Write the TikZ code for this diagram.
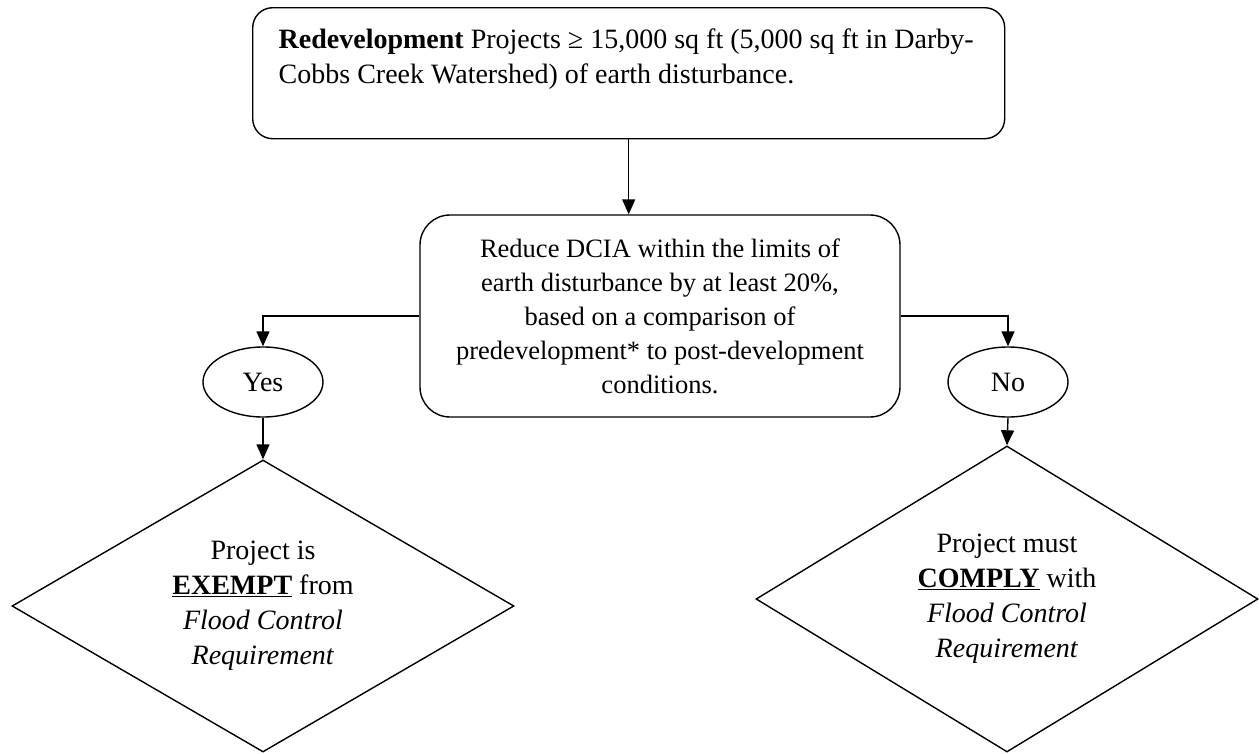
\documentclass[tikz,border=0pt]{standalone}
\usepackage{fontspec}
\setmainfont{Liberation Serif}
\usetikzlibrary{shapes.geometric,arrows.meta}
\begin{document}
\begin{tikzpicture}[x=1pt,y=-1pt,
  line width=1.4pt,
  topbox/.style={draw,rounded corners=20pt,minimum width=752pt,minimum height=131pt,inner sep=0pt,anchor=north west},
  midbox/.style={draw,rounded corners=30pt,minimum width=480pt,minimum height=202pt,inner sep=0pt,align=center,font=\fontsize{26.5}{34}\selectfont},
  oval/.style={draw,ellipse,minimum width=120pt,minimum height=70pt,inner sep=0pt,font=\fontsize{28}{30}\selectfont},
  dia/.style={draw,diamond,shape aspect=1.72,minimum width=502pt,inner sep=0pt,align=center,font=\fontsize{28}{35}\selectfont},
  arr/.style={-{Triangle[length=15pt,width=13pt]}}
]
\useasboundingbox (0,0) rectangle (1259,753);
\node[topbox] (top) at (252,7) {\parbox[c][105pt][t]{700pt}{\vspace*{8pt}\fontsize{28}{35}\selectfont\textbf{Redevelopment} Projects ≥ 15,000 sq ft (5,000 sq ft in Darby-\\Cobbs Creek Watershed) of earth disturbance.}};
\node[midbox] (mid) at (660,316) {Reduce DCIA within the limits of\\earth disturbance by at least 20\%,\\based on a comparison of\\predevelopment* to post-development\\conditions.};
\node[oval] (yes) at (263,382) {Yes};
\node[oval] (no) at (1008,382) {No};
\node[dia,minimum height=292pt] (ldia) at (263,606) {Project is\\\underline{\textbf{EXEMPT}} from\\\textit{Flood Control}\\\textit{Requirement}};
\node[dia,minimum height=306pt] (rdia) at (1007,599) {Project must\\\underline{\textbf{COMPLY}} with\\\textit{Flood Control}\\\textit{Requirement}};
\draw[arr] (top.south) -- (top.south |- mid.north);
\draw[arr] (mid.west) -| (yes.north);
\draw[arr] (mid.east) -| (no.north);
\draw[arr] (yes.south) -- (ldia.north);
\draw[arr] (no.south) -- (rdia.north);
\end{tikzpicture}
\end{document}
